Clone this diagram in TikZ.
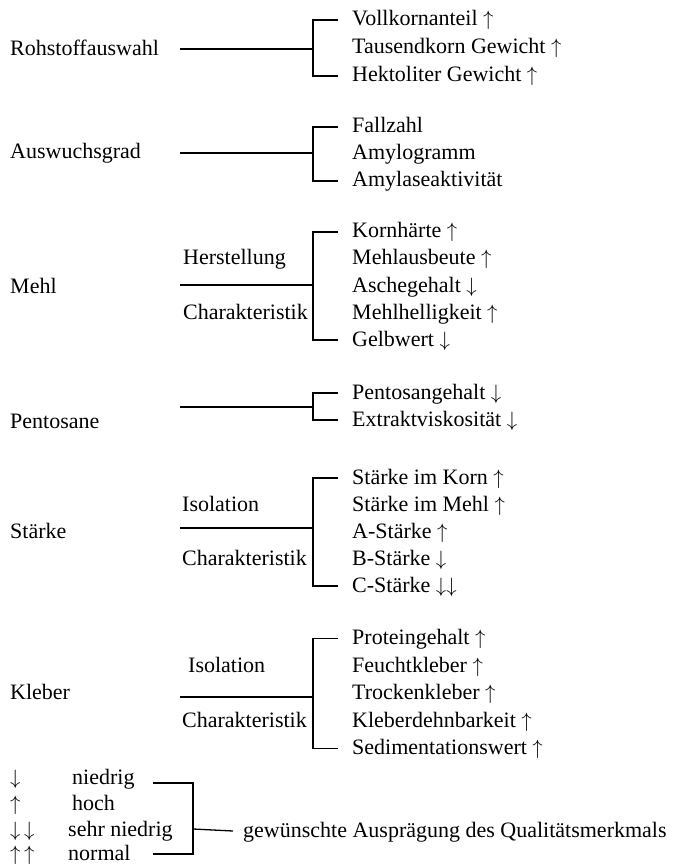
\documentclass[tikz,border=0pt]{standalone}
\usepackage{fontspec}
\setmainfont{Liberation Serif}
\tikzset{
  txt/.style={anchor=west,inner sep=0pt,text height=16pt,text depth=4pt,
    font=\fontsize{22}{26}\selectfont},
  ast/.style={line width=1.3pt},
}
\begin{document}
\begin{tikzpicture}[x=1pt,y=-1pt]
\useasboundingbox (0,0) rectangle (678,866);
% Rohstoffauswahl
\node[txt] (roh) at (10,50) {Rohstoffauswahl};
\foreach \t [count=\i] in {Vollkornanteil $\uparrow$,Tausendkorn Gewicht $\uparrow$,Hektoliter Gewicht $\uparrow$}
  \node[txt] (roh\i) at (352,28*\i-8) {\t};
\coordinate (roha) at (180,49);
\coordinate (rohb) at (313,49);
\draw[ast] (roha) -- (rohb);
\draw[ast] ([xshift=-14pt]roh1.west) -| (rohb) |- ([xshift=-14pt]roh3.west);
% Auswuchsgrad
\node[txt] (ausw) at (10,153) {Auswuchsgrad};
\foreach \t [count=\i] in {Fallzahl,Amylogramm,Amylaseaktivität}
  \node[txt] (ausw\i) at (352,100+27*\i) {\t};
\coordinate (auswa) at (180,153);
\coordinate (auswb) at (313,153);
\draw[ast] (auswa) -- (auswb);
\draw[ast] ([xshift=-14pt]ausw1.west) -| (auswb) |- ([xshift=-14pt]ausw3.west);
% Mehl
\node[txt] (mehl) at (10,288) {Mehl};
\node[txt] (mehlh) at (183,259) {Herstellung};
\node[txt] (mehlc) at (183,313) {Charakteristik};
\foreach \t [count=\i] in {Kornhärte $\uparrow$,Mehlausbeute $\uparrow$,Aschegehalt $\downarrow$,Mehlhelligkeit $\uparrow$,Gelbwert $\downarrow$}
  \node[txt] (mehl\i) at (352,205+27*\i) {\t};
\coordinate (mehla) at (180,285);
\coordinate (mehlb) at (313,285);
\draw[ast] (mehla) -- (mehlb);
\draw[ast] ([xshift=-14pt]mehl1.west) -| (mehlb) |- ([xshift=-14pt]mehl5.west);
% Pentosane
\node[txt] (pent) at (10,422) {Pentosane};
\foreach \t [count=\i] in {Pentosangehalt $\downarrow$,Extraktviskosität $\downarrow$}
  \node[txt] (pent\i) at (352,366+27*\i) {\t};
\coordinate (penta) at (180,407);
\coordinate (pentb) at (313,407);
\draw[ast] (penta) -- (pentb);
\draw[ast] ([xshift=-14pt]pent1.west) -| (pentb) |- ([xshift=-14pt]pent2.west);
% Staerke
\node[txt] (st) at (10,532) {Stärke};
\node[txt] (sti) at (182,505) {Isolation};
\node[txt] (stc) at (182,559) {Charakteristik};
\foreach \t [count=\i] in {Stärke im Korn $\uparrow$,Stärke im Mehl $\uparrow$,A-Stärke $\uparrow$,B-Stärke $\downarrow$,C-Stärke $\downarrow\downarrow$}
  \node[txt] (st\i) at (352,451+27*\i) {\t};
\coordinate (sta) at (180,528);
\coordinate (stb) at (313,528);
\draw[ast] (sta) -- (stb);
\draw[ast] ([xshift=-14pt]st1.west) -| (stb) |- ([xshift=-14pt]st5.west);
% Kleber
\node[txt] (kl) at (10,693) {Kleber};
\node[txt] (kli) at (188,666) {Isolation};
\node[txt] (klc) at (182,721) {Charakteristik};
\foreach \t [count=\i] in {Proteingehalt $\uparrow$,Feuchtkleber $\uparrow$,Trockenkleber $\uparrow$,Kleberdehnbarkeit $\uparrow$,Sedimentationswert $\uparrow$}
  \node[txt] (kl\i) at (352,611+27.5*\i) {\t};
\coordinate (kla) at (180,697);
\coordinate (klb) at (313,697);
\draw[ast] (kla) -- (klb);
\draw[ast] ([xshift=-14pt]kl1.west) -| (klb) |- ([xshift=-14pt]kl5.west);
% Legende
\node[txt] (s1) at (10,778) {$\downarrow$};
\node[txt] (s2) at (10,804) {$\uparrow$};
\node[txt] (s3) at (10,830) {$\downarrow\,\downarrow$};
\node[txt] (s4) at (10,854) {$\uparrow\,\uparrow$};
\node[txt] (leg1) at (72,778) {niedrig};
\node[txt] (leg2) at (72,804) {hoch};
\node[txt] (leg3) at (68,830) {sehr niedrig};
\node[txt] (leg4) at (68,854) {normal};
\node[txt] (gew) at (243,831) {gewünschte Ausprägung des Qualitätsmerkmals};
\coordinate (legb) at (193,829);
\draw[ast] ([xshift=18pt,yshift=-5pt]leg1.east) -| (legb) |- ([xshift=22pt]leg4.east);
\draw[ast] (legb) -- ([xshift=-10pt]gew.west);
\end{tikzpicture}
\end{document}
